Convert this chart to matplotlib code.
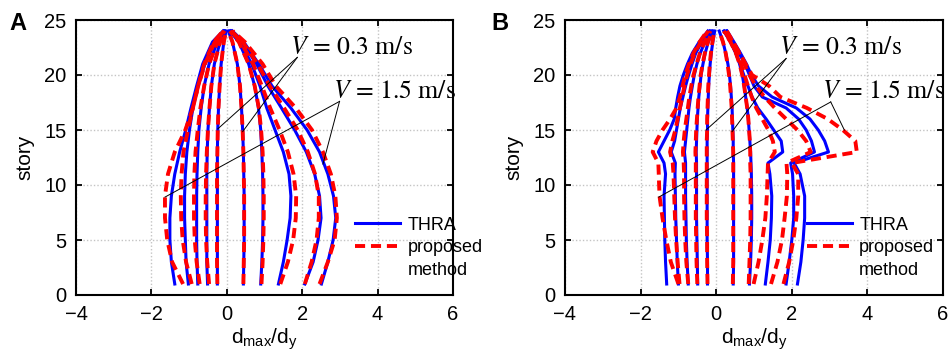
import matplotlib
matplotlib.use('Agg')

import matplotlib.pyplot as plt
from matplotlib.lines import Line2D

plt.rcParams['font.family'] = ['Liberation Sans', 'DejaVu Sans']
plt.rcParams['mathtext.fontset'] = 'custom'
plt.rcParams['mathtext.rm'] = 'Liberation Sans'
plt.rcParams['mathtext.it'] = 'Liberation Sans:italic'

stories_a = [1, 3, 5, 7, 9, 11, 13, 15, 17, 19, 21, 23, 24]
stories_b = [1, 3, 5, 7, 9, 11, 12, 13, 14, 15, 16, 17, 18, 19, 20, 21, 22, 23, 24]

# panel A, THRA (blue)
thra_a = [
    [-1.38, -1.47, -1.51, -1.51, -1.47, -1.38, -1.25, -1.09, -0.95, -0.80, -0.64, -0.38, -0.10],
    [-1.02, -1.08, -1.10, -1.12, -1.12, -1.10, -1.06, -0.99, -0.90, -0.76, -0.58, -0.32, -0.08],
    [-0.77, -0.79, -0.80, -0.80, -0.80, -0.79, -0.77, -0.74, -0.68, -0.60, -0.47, -0.25, -0.06],
    [-0.51, -0.53, -0.53, -0.53, -0.53, -0.53, -0.52, -0.50, -0.46, -0.41, -0.33, -0.18, -0.04],
    [-0.25, -0.25, -0.25, -0.25, -0.25, -0.25, -0.25, -0.24, -0.22, -0.19, -0.15, -0.08, -0.02],
    [0.44, 0.45, 0.46, 0.46, 0.46, 0.45, 0.44, 0.42, 0.39, 0.35, 0.28, 0.15, 0.04],
    [0.90, 0.93, 0.95, 0.96, 0.96, 0.95, 0.93, 0.90, 0.84, 0.74, 0.58, 0.32, 0.08],
    [1.37, 1.50, 1.60, 1.68, 1.70, 1.65, 1.50, 1.28, 1.06, 0.88, 0.66, 0.35, 0.10],
    [2.07, 2.29, 2.42, 2.50, 2.46, 2.33, 2.11, 1.80, 1.45, 1.09, 0.79, 0.40, 0.12],
    [2.51, 2.68, 2.82, 2.89, 2.83, 2.68, 2.46, 2.13, 1.70, 1.20, 0.85, 0.45, 0.15],
]

# panel A, proposed method (red dashed)
prop_a = [
    [-1.16, -1.45, -1.58, -1.64, -1.64, -1.56, -1.38, -1.10, -0.90, -0.76, -0.60, -0.35, -0.10],
    [-0.93, -1.08, -1.17, -1.21, -1.22, -1.20, -1.15, -1.03, -0.90, -0.76, -0.58, -0.32, -0.08],
    [-0.72, -0.80, -0.85, -0.87, -0.87, -0.86, -0.83, -0.77, -0.70, -0.60, -0.47, -0.25, -0.06],
    [-0.47, -0.52, -0.55, -0.56, -0.56, -0.55, -0.53, -0.50, -0.46, -0.41, -0.33, -0.18, -0.04],
    [-0.25, -0.26, -0.26, -0.26, -0.26, -0.26, -0.25, -0.24, -0.22, -0.19, -0.15, -0.08, -0.02],
    [0.44, 0.45, 0.46, 0.46, 0.46, 0.45, 0.44, 0.42, 0.39, 0.35, 0.28, 0.15, 0.04],
    [0.92, 0.95, 0.97, 0.98, 0.98, 0.97, 0.95, 0.91, 0.85, 0.74, 0.58, 0.32, 0.08],
    [1.42, 1.62, 1.76, 1.83, 1.84, 1.77, 1.62, 1.40, 1.15, 0.93, 0.70, 0.37, 0.10],
    [2.07, 2.25, 2.38, 2.44, 2.44, 2.34, 2.15, 1.88, 1.52, 1.14, 0.82, 0.42, 0.12],
    [2.46, 2.68, 2.86, 2.92, 2.88, 2.76, 2.55, 2.26, 1.83, 1.30, 0.95, 0.48, 0.16],
]

# panel B, THRA (blue)
thra_b = [
    [-1.31, -1.34, -1.36, -1.37, -1.38, -1.34, -1.38, -1.53, -1.38, -1.23, -1.11, -1.07, -1.02, -0.96, -0.87, -0.76, -0.63, -0.45, -0.22],
    [-1.00, -1.03, -1.05, -1.07, -1.08, -1.09, -1.08, -1.19, -1.10, -1.05, -1.00, -0.95, -0.88, -0.81, -0.73, -0.64, -0.54, -0.38, -0.17],
    [-0.74, -0.77, -0.79, -0.80, -0.81, -0.81, -0.81, -0.84, -0.81, -0.78, -0.75, -0.72, -0.68, -0.63, -0.58, -0.51, -0.42, -0.30, -0.13],
    [-0.49, -0.50, -0.51, -0.52, -0.52, -0.52, -0.52, -0.53, -0.52, -0.51, -0.50, -0.48, -0.46, -0.43, -0.40, -0.35, -0.29, -0.21, -0.09],
    [-0.23, -0.23, -0.24, -0.24, -0.24, -0.24, -0.24, -0.24, -0.24, -0.23, -0.23, -0.22, -0.21, -0.20, -0.18, -0.16, -0.13, -0.09, -0.04],
    [0.45, 0.46, 0.46, 0.46, 0.46, 0.46, 0.46, 0.45, 0.45, 0.44, 0.43, 0.42, 0.40, 0.38, 0.35, 0.31, 0.25, 0.18, 0.08],
    [0.88, 0.91, 0.93, 0.94, 0.94, 0.93, 0.92, 0.91, 0.89, 0.87, 0.85, 0.82, 0.78, 0.74, 0.69, 0.62, 0.52, 0.38, 0.20],
    [1.30, 1.37, 1.43, 1.46, 1.47, 1.42, 1.37, 1.76, 1.72, 1.52, 1.32, 1.10, 0.95, 0.84, 0.73, 0.63, 0.52, 0.38, 0.22],
    [1.85, 1.93, 2.00, 2.05, 2.05, 2.02, 1.97, 2.60, 2.52, 2.38, 2.18, 1.85, 1.22, 1.00, 0.88, 0.76, 0.60, 0.44, 0.27],
    [2.15, 2.24, 2.30, 2.34, 2.34, 2.22, 2.06, 2.97, 2.87, 2.70, 2.48, 2.12, 1.48, 1.12, 0.93, 0.80, 0.64, 0.47, 0.29],
]

# panel B, proposed method (red dashed)
prop_b = [
    [-1.00, -1.20, -1.32, -1.42, -1.50, -1.52, -1.53, -1.68, -1.58, -1.42, -1.22, -1.05, -0.96, -0.89, -0.82, -0.72, -0.60, -0.44, -0.24],
    [-0.97, -1.02, -1.06, -1.09, -1.11, -1.13, -1.15, -1.22, -1.16, -1.08, -1.02, -0.96, -0.90, -0.84, -0.77, -0.68, -0.57, -0.41, -0.21],
    [-0.74, -0.79, -0.82, -0.84, -0.85, -0.85, -0.86, -0.88, -0.86, -0.83, -0.79, -0.75, -0.71, -0.66, -0.60, -0.52, -0.43, -0.31, -0.15],
    [-0.50, -0.52, -0.53, -0.54, -0.54, -0.54, -0.54, -0.55, -0.54, -0.53, -0.51, -0.49, -0.47, -0.44, -0.41, -0.36, -0.30, -0.22, -0.10],
    [-0.23, -0.24, -0.24, -0.25, -0.25, -0.25, -0.25, -0.25, -0.25, -0.24, -0.24, -0.23, -0.22, -0.21, -0.19, -0.17, -0.14, -0.10, -0.05],
    [0.44, 0.45, 0.45, 0.45, 0.45, 0.45, 0.45, 0.45, 0.44, 0.43, 0.42, 0.41, 0.39, 0.37, 0.34, 0.30, 0.25, 0.18, 0.08],
    [0.86, 0.88, 0.90, 0.91, 0.91, 0.91, 0.90, 0.90, 0.89, 0.87, 0.85, 0.82, 0.78, 0.74, 0.69, 0.62, 0.52, 0.38, 0.20],
    [0.99, 1.12, 1.22, 1.30, 1.34, 1.36, 1.37, 1.55, 1.50, 1.38, 1.22, 1.06, 0.94, 0.84, 0.75, 0.65, 0.53, 0.39, 0.22],
    [1.45, 1.62, 1.74, 1.81, 1.87, 1.88, 1.86, 2.50, 2.38, 2.15, 1.85, 1.55, 1.28, 1.05, 0.88, 0.74, 0.60, 0.44, 0.26],
    [1.78, 1.93, 2.04, 2.12, 2.17, 2.17, 2.00, 3.72, 3.68, 3.35, 2.95, 2.40, 1.70, 1.40, 0.95, 0.78, 0.62, 0.45, 0.28],
]

# velocity labels and their leader lines (start point, then end points)
label_03 = (1.67, 22.5)
label_15 = (2.81, 18.45)
leaders_a = {'03': [(1.87, 21.6), (-0.24, 15.1), (0.42, 14.85)],
             '15': [(2.99, 17.6), (-1.64, 8.9), (2.55, 11.9)]}
leaders_b = {'03': [(1.85, 21.5), (-0.27, 15.0), (0.42, 14.85)],
             '15': [(3.03, 17.55), (-1.52, 8.9), (3.39, 15.0)]}

BLUE = '#0000ff'
RED = '#ff0000'
LW_B = 2.2
LW_R = 2.8
DASH = (2.6, 1.5)


def draw_panel(ax, stories, thra, prop, leaders, legend_xy):
    for xs in thra:
        ax.plot(xs, stories, color=BLUE, lw=LW_B, zorder=3)
    for xs in prop:
        ax.plot(xs, stories, color=RED, lw=LW_R, dashes=DASH, zorder=4)

    # leader lines for the velocity labels
    for key in ('03', '15'):
        start, *ends = leaders[key]
        for end in ends:
            ax.plot([start[0], end[0]], [start[1], end[1]], color='black', lw=0.7, zorder=5)

    ax.text(*label_03, r'$V$ = 0.3 m/s', family='STIXGeneral', math_fontfamily='stix',
            fontsize=18.5, ha='left', va='center', zorder=6)
    ax.text(*label_15, r'$V$ = 1.5 m/s', family='STIXGeneral', math_fontfamily='stix',
            fontsize=18.5, ha='left', va='center', zorder=6, clip_on=False)

    ax.set_xlim(-4, 6)
    ax.set_ylim(0, 25)
    ax.set_xticks([-4, -2, 0, 2, 4, 6])
    ax.set_yticks([0, 5, 10, 15, 20, 25])
    ax.grid(True, linestyle=(0, (1, 1.5)), color='#c4c4c4', lw=1.0)
    ax.set_axisbelow(True)
    ax.tick_params(direction='in', top=True, right=True, length=4, width=1.3,
                   labelsize=14.5, pad=7)
    for sp in ax.spines.values():
        sp.set_linewidth(1.5)

    ax.set_xlabel(r'$\mathrm{d}_{\mathrm{max}}/\mathrm{d}_{\mathrm{y}}$', fontsize=15, labelpad=2)
    ax.set_ylabel('story', fontsize=15, labelpad=7)

    handles = [Line2D([], [], color=BLUE, lw=LW_B),
               Line2D([], [], color=RED, lw=LW_R, dashes=DASH),
               Line2D([], [], color='none')]
    ax.legend(handles, ['THRA', 'proposed', 'method'], loc='upper left',
              bbox_to_anchor=legend_xy, frameon=False, fontsize=13,
              handlelength=2.5, handletextpad=0.4, labelspacing=0.32,
              borderpad=0, borderaxespad=0)


fig = plt.figure(figsize=(9.51, 3.64), dpi=100)
axA = fig.add_axes([76 / 951, 1 - 295 / 364, 377 / 951, 275 / 364])
axB = fig.add_axes([565 / 951, 1 - 295 / 364, 378 / 951, 275 / 364])

draw_panel(axA, stories_a, thra_a, prop_a, leaders_a, (0.74, 0.285))
draw_panel(axB, stories_b, thra_b, prop_b, leaders_b, (0.64, 0.285))

fig.text(9 / 951, 1 - 24 / 364, 'A', fontsize=17, fontweight='bold', va='center')
fig.text(491 / 951, 1 - 24 / 364, 'B', fontsize=17, fontweight='bold', va='center')

fig.savefig('out.png', dpi=100)
